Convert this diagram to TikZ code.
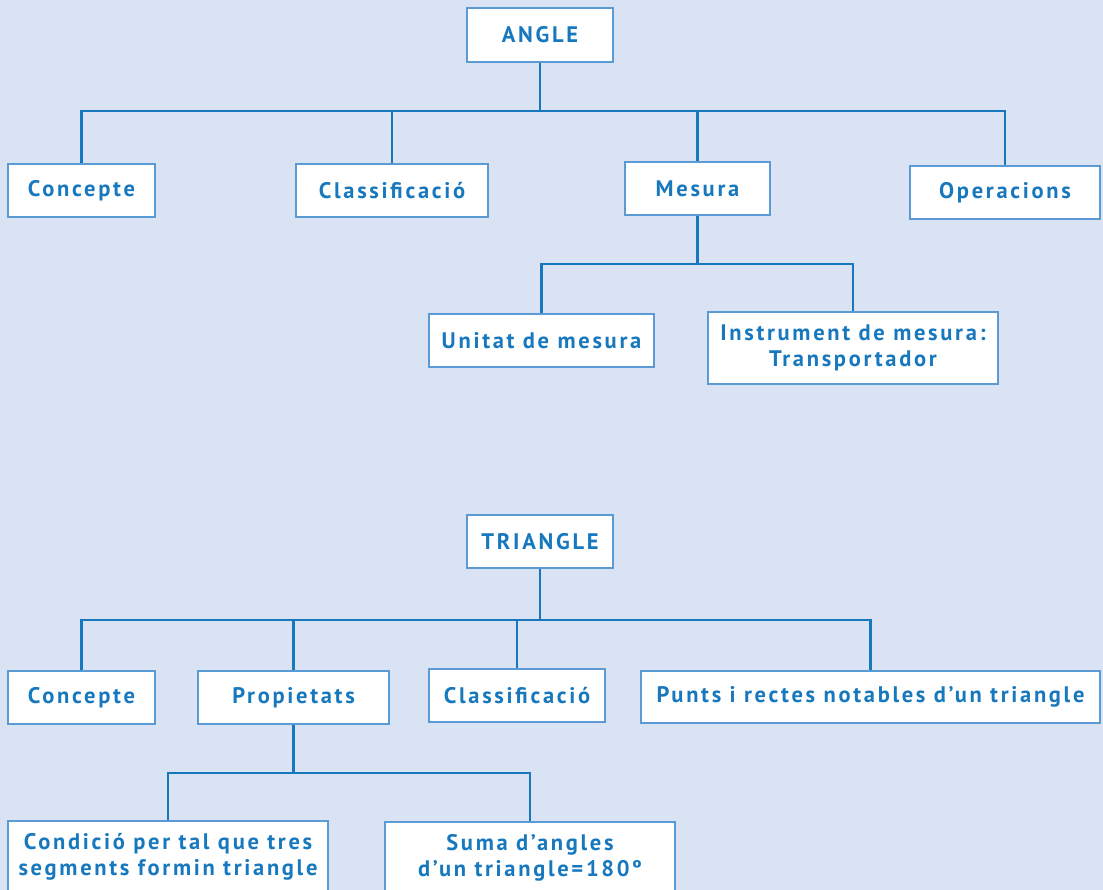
\documentclass[tikz,border=0pt]{standalone}
\usepackage{fontspec}
\setmainfont{PT Sans}[LetterSpace=12]
\definecolor{bg}{HTML}{DAE3F3}
\definecolor{ink}{HTML}{1878BE}
\definecolor{edge}{HTML}{5B9BD5}
\begin{document}
\begin{tikzpicture}[x=1pt,y=-1pt,
  box/.style={draw=edge,line width=1.2pt,fill=white,text=ink,align=center,
    inner sep=0pt,font=\fontsize{22.5}{25.5}\selectfont\bfseries},
  conn/.style={draw=ink,line width=2.6pt,line join=miter}]
\fill[bg] (0,0) rectangle (1103,890);
\useasboundingbox (0,0) rectangle (1103,890);
\clip (0,0) rectangle (1103,890);
% top tree
\node[box,minimum width=146pt,minimum height=54pt] (angle) at (540,35) {ANGLE};
\node[box,minimum width=147pt,minimum height=53pt] (conc1) at (81.5,190.5) {Concepte};
\node[box,minimum width=192pt,minimum height=53pt] (clas1) at (392,190.5) {Classificació};
\node[box,minimum width=145pt,minimum height=53pt] (mes) at (697.5,188.5) {Mesura};
\node[box,minimum width=190pt,minimum height=53pt] (oper) at (1005,192.5) {Operacions};
\node[box,minimum width=225pt,minimum height=53pt] (unit) at (541.5,340.5) {Unitat de mesura};
\node[box,minimum width=290pt,minimum height=72pt] (instr) at (853,348) {Instrument de mesura:\\Transportador};
\coordinate (bus1) at (0,111);
\coordinate (bus2) at (0,264);
\draw[conn] (angle.south) -- (angle.south |- bus1);
\draw[conn] (conc1.north) -- (conc1.north |- bus1) -- (oper.north |- bus1) -- (oper.north);
\draw[conn] (clas1.north) -- (clas1.north |- bus1);
\draw[conn] (mes.north) -- (mes.north |- bus1);
\draw[conn] (mes.south) -- (mes.south |- bus2);
\draw[conn] (unit.north) -- (unit.north |- bus2) -- (instr.north |- bus2) -- (instr.north);
% bottom tree
\node[box,minimum width=146pt,minimum height=53pt] (tri) at (540,541.5) {TRIANGLE};
\node[box,minimum width=147pt,minimum height=53pt] (conc2) at (81.5,697.5) {Concepte};
\node[box,minimum width=191pt,minimum height=53pt] (prop) at (293.5,697.5) {Propietats};
\node[box,minimum width=176pt,minimum height=53pt] (clas2) at (517,695.5) {Classificació};
\node[box,minimum width=459pt,minimum height=52pt] (punts) at (870.5,697) {Punts i rectes notables d’un triangle};
\node[box,minimum width=320pt,minimum height=72pt] (cond) at (168,857) {Condició per tal que tres\\segments formin triangle};
\node[box,minimum width=290pt,minimum height=72pt] (suma) at (530,858) {Suma d’angles\\d’un triangle=180º};
\coordinate (bus3) at (0,620);
\coordinate (bus4) at (0,773);
\draw[conn] (tri.south) -- (tri.south |- bus3);
\draw[conn] (conc2.north) -- (conc2.north |- bus3) -- (punts.north |- bus3) -- (punts.north);
\draw[conn] (prop.north) -- (prop.north |- bus3);
\draw[conn] (clas2.north) -- (clas2.north |- bus3);
\draw[conn] (prop.south) -- (prop.south |- bus4);
\draw[conn] (cond.north) -- (cond.north |- bus4) -- (suma.north |- bus4) -- (suma.north);
\end{tikzpicture}
\end{document}
